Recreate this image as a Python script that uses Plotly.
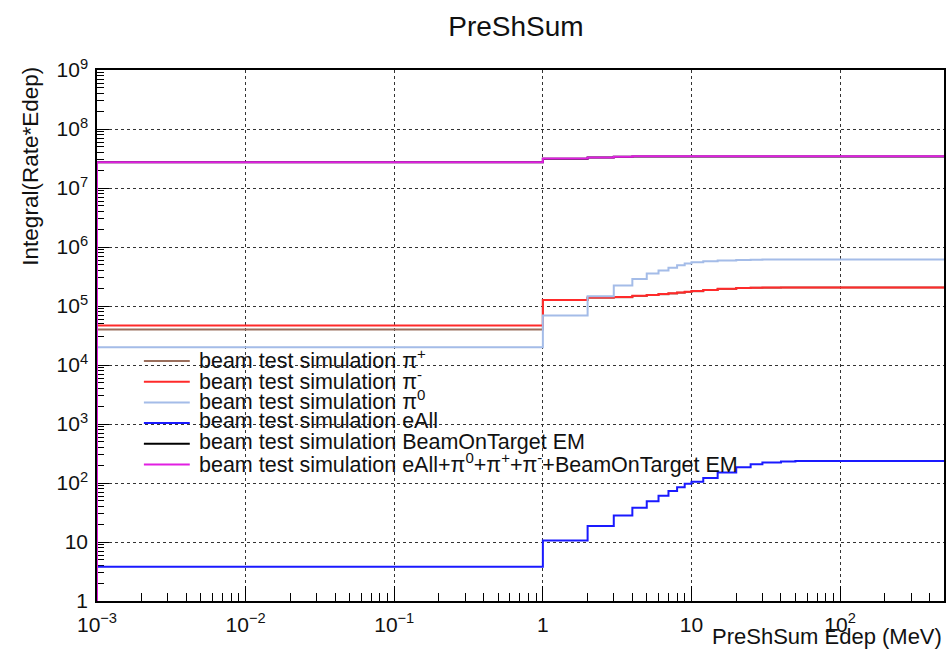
import numpy as np
import plotly.graph_objects as go

# ---------------- data (cumulative integral, step edges in MeV) ----------------
edges = [0.001, 1, 2, 3, 4, 5, 6, 7, 8, 9, 10, 12, 15, 20, 25, 30, 40, 50, 500]

pi_plus = [3.98e4, 1.26e5, 1.38e5, 1.41e5, 1.48e5, 1.53e5, 1.58e5, 1.63e5, 1.68e5, 1.73e5,
           1.78e5, 1.86e5, 1.95e5, 2.01e5, 2.03e5, 2.04e5, 2.05e5, 2.05e5, 2.05e5]
pi_minus = [4.67e4, 1.27e5, 1.39e5, 1.42e5, 1.49e5, 1.54e5, 1.59e5, 1.64e5, 1.69e5, 1.74e5,
            1.79e5, 1.87e5, 1.96e5, 2.02e5, 2.04e5, 2.05e5, 2.06e5, 2.06e5, 2.06e5]
pi_zero = [2.0e4, 6.9e4, 1.47e5, 2.23e5, 2.88e5, 3.55e5, 4.0e5, 4.46e5, 4.9e5, 5.25e5,
           5.5e5, 5.72e5, 5.92e5, 6.05e5, 6.1e5, 6.13e5, 6.14e5, 6.14e5, 6.14e5]
e_all = [3.8, 10.6, 18.6, 28, 38, 49, 61, 73, 85, 97,
         105, 122, 150, 185, 208, 222, 232, 235, 235]
bot_em = [2.73e7, 3.14e7, 3.28e7, 3.37e7, 3.41e7, 3.42e7, 3.43e7, 3.43e7, 3.43e7, 3.43e7,
          3.43e7, 3.43e7, 3.43e7, 3.43e7, 3.43e7, 3.43e7, 3.43e7, 3.43e7, 3.43e7]
sum_all = [2.74e7, 3.16e7, 3.30e7, 3.40e7, 3.44e7, 3.45e7, 3.45e7, 3.45e7, 3.45e7, 3.45e7,
           3.45e7, 3.45e7, 3.45e7, 3.45e7, 3.45e7, 3.45e7, 3.45e7, 3.45e7, 3.45e7]

series_names = [
    "beam test simulation π<sup>+</sup>",
    "beam test simulation π<sup>-</sup>",
    "beam test simulation π<sup>0</sup>",
    "beam test simulation eAll",
    "beam test simulation BeamOnTarget EM",
    "beam test simulation eAll+π<sup>0</sup>+π<sup>+</sup>+π<sup>-</sup>+BeamOnTarget EM",
]
series_values = [pi_plus, pi_minus, pi_zero, e_all, bot_em, sum_all]
series_colors = ["#9a6e5c", "#ff2a2a", "#a4bce8", "#1a1aff", "#000000", "#e21fe2"]

x_tick_vals = [1e-3, 1e-2, 1e-1, 1, 10, 100]
x_tick_text = ["10<sup>−3</sup>", "10<sup>−2</sup>", "10<sup>−1</sup>", "1", "10", "10<sup>2</sup>"]
y_tick_vals = [10 ** k for k in range(0, 10)]
y_tick_text = ["1", "10"] + [f"10<sup>{k}</sup>" for k in range(2, 10)]

# ---------------- layout geometry ----------------
W, H = 949, 649
L, R, T, B = 97, 3, 70, 48
xr = [-3, np.log10(500)]
yr = [0, 9]
FONT = "Liberation Sans, Arial, Helvetica, sans-serif"

fig = go.Figure()
y_floor = 10 ** yr[0]
for name, vals, col in zip(series_names, series_values, series_colors):
    xs = [edges[0]] + list(edges)
    ys = [y_floor] + list(vals)
    fig.add_trace(go.Scatter(x=xs, y=ys, mode="lines", name=name,
                             line=dict(color=col, width=2, shape="hv"),
                             showlegend=False, hoverinfo="skip"))


def minor_vals(lo, hi):
    out = []
    for k in range(int(np.floor(lo)), int(np.ceil(hi)) + 1):
        for m in range(2, 10):
            v = m * 10.0 ** k
            if 10 ** lo < v < 10 ** hi:
                out.append(v)
    return out


axis_common = dict(type="log", showline=True, linecolor="black", linewidth=1.5, mirror=True,
                   showgrid=True, gridcolor="#333333", griddash="dot", gridwidth=1,
                   ticks="inside", tickcolor="black", tickwidth=1.2,
                   tickfont=dict(family=FONT, size=21, color="#111111"),
                   zeroline=False, layer="below traces", tickmode="array")

fig.update_xaxes(range=xr, tickvals=x_tick_vals, ticktext=x_tick_text, ticklen=15,
                 ticklabelstandoff=4,
                 minor=dict(tickmode="array", tickvals=minor_vals(*xr), ticks="inside",
                            ticklen=8, tickcolor="black", showgrid=False),
                 **axis_common)
fig.update_yaxes(range=yr, tickvals=y_tick_vals, ticktext=y_tick_text, ticklen=12,
                 ticklabelstandoff=3,
                 minor=dict(tickmode="array", tickvals=minor_vals(*yr), ticks="inside",
                            ticklen=7, tickcolor="black", showgrid=False),
                 **axis_common)

pw, ph = W - L - R, H - T - B


def px2paper(px, py):
    return (px - L) / pw, (H - B - py) / ph


annotations = []
shapes = []
# legend (drawn as annotations + sample lines, ROOT style)
leg_x0, leg_x1, leg_tx = 144, 190, 197
leg_y0, leg_dy = 361, 20.7
for i, (name, col) in enumerate(zip(series_names, series_colors)):
    yy = leg_y0 + i * leg_dy
    xa, ya = px2paper(leg_x0, yy)
    xb, _ = px2paper(leg_x1, yy)
    shapes.append(dict(type="line", xref="paper", yref="paper", x0=xa, x1=xb, y0=ya, y1=ya,
                       line=dict(color=col, width=2)))
    xt, yt = px2paper(leg_tx, yy - 2)
    annotations.append(dict(xref="paper", yref="paper", x=xt, y=yt, xanchor="left",
                            yanchor="middle", text=name, showarrow=False,
                            font=dict(family=FONT, size=21.5, color="#111111")))

# axis titles (ROOT: right / top aligned)
xt, yt = px2paper(946, 636)
annotations.append(dict(xref="paper", yref="paper", x=xt, y=yt, xanchor="right", yanchor="middle",
                        text="PreShSum Edep (MeV)", showarrow=False,
                        font=dict(family=FONT, size=22, color="#111111")))
xt, yt = px2paper(30, 65)
annotations.append(dict(xref="paper", yref="paper", x=xt, y=yt, xanchor="center", yanchor="top",
                        text="Integral(Rate*Edep)", textangle=-90, showarrow=False,
                        font=dict(family=FONT, size=22.5, color="#111111")))

fig.update_layout(
    width=W, height=H,
    margin=dict(l=L, r=R, t=T, b=B),
    paper_bgcolor="white", plot_bgcolor="white",
    title=dict(text="PreShSum", x=516 / W, xanchor="center", y=1 - 26 / H, yanchor="middle",
               font=dict(family=FONT, size=28, color="#111111")),
    annotations=annotations, shapes=shapes,
    showlegend=False,
)

fig.write_html("out.html")
